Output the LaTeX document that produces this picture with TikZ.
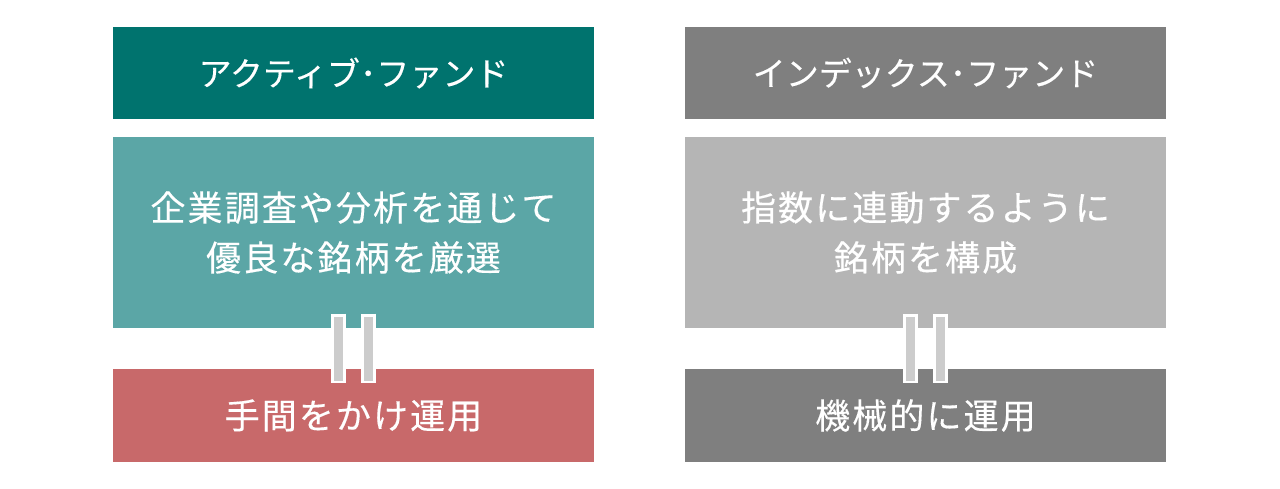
\documentclass[tikz,border=0pt]{standalone}
\usepackage{fontspec}
\setmainfont{Noto Sans CJK JP}[FakeBold=0.3]
\newfontfamily\spacedfont{Noto Sans CJK JP}[FakeBold=0.3, LetterSpace=6]
\usetikzlibrary{calc}
\definecolor{activetop}{HTML}{00736E}
\definecolor{activemid}{HTML}{5BA6A6}
\definecolor{activelow}{HTML}{C8696A}
\definecolor{indextop}{HTML}{7F7F7F}
\definecolor{indexmid}{HTML}{B5B5B5}
\definecolor{indexlow}{HTML}{7F7F7F}
\definecolor{bargrey}{HTML}{CCCCCC}
\begin{document}
\begin{tikzpicture}[x=1pt, y=-1pt, line cap=butt,
    fundbox/.style={minimum width=481pt, inner sep=0pt, text=white, align=center},
    headbox/.style={fundbox, minimum height=92pt, font=\fontsize{33}{38}\selectfont},
    notebox/.style={fundbox, minimum height=191pt, font=\spacedfont\fontsize{35}{50}\selectfont},
    waybox/.style={fundbox, minimum height=93pt, font=\spacedfont\fontsize{35}{40}\selectfont}]
  \useasboundingbox (0,0) rectangle (1280,489);
  % active fund column
  \node[headbox, fill=activetop] (acthead) at (353.5,73) {アクティブ･ファンド};
  \node[notebox, fill=activemid] (actnote) at (353.5,232.5) {企業調査や分析を通じて\\優良な銘柄を厳選};
  \node[waybox, fill=activelow] (actway) at (353.5,415.5) {手間をかけ運用};
  % index fund column
  \node[headbox, fill=indextop] (idxhead) at (925.5,73) {インデックス･ファンド};
  \node[notebox, fill=indexmid] (idxnote) at (925.5,232.5) {指数に連動するように\\銘柄を構成};
  \node[waybox, fill=indexlow] (idxway) at (925.5,415.5) {機械的に運用};
  % equal bars
  \foreach \upper/\lower in {actnote/actway, idxnote/idxway}
    \foreach \dx in {-15,15} {
      \draw[white, line width=15pt] ($(\upper.south)+(\dx,-14.7)$) -- ($(\lower.north)+(\dx,14.3)$);
      \draw[bargrey, line width=9pt] ($(\upper.south)+(\dx,-11.3)$) -- ($(\lower.north)+(\dx,12)$);
    }
\end{tikzpicture}
\end{document}
